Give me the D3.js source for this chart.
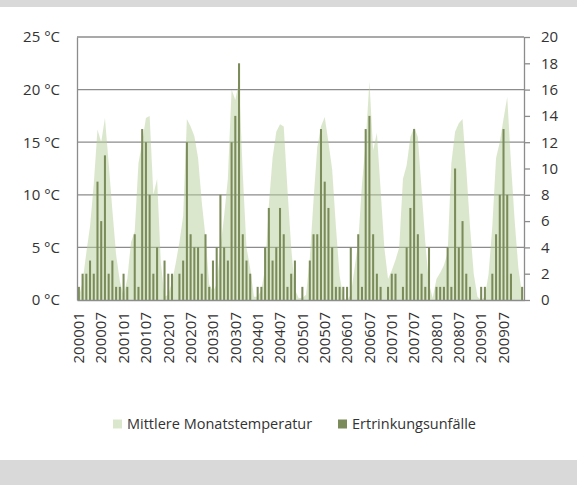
<!DOCTYPE html>
<html lang="de">
<head>
<meta charset="UTF-8">
<title>Temperatur und Ertrinkungsunfälle</title>
<script src="https://cdn.jsdelivr.net/npm/d3@7"></script>
<style>
  body { margin: 0; background: #fff; }
  .chart text { fill: #333; font-family: "Open Sans", sans-serif; }
</style>
</head>
<body>
<div class="chart"></div>
<script>
  const years = ['2000','2001','2002','2003','2004','2005','2006','2007','2008','2009'];
  const monthCodes = ['01','02','03','04','05','06','07','08','09','10','11','12'];
  const months = years.flatMap(y => monthCodes.map(m => y + m));
  const labelMonths = ['200001','200007','200101','200107','200201','200207','200301','200307','200401','200407',
    '200501','200507','200601','200607','200701','200707','200801','200807','200901','200907'];

  // mittlere Monatstemperatur in °C, je Zeile ein Jahr
  const temperature = [
    0.3, 1.7, 4.5, 7, 11, 16.2, 15, 17.3, 13, 8.5, 4.3, 1.8,
    0.4, 2, 5.5, 6.5, 13, 15, 17.3, 17.5, 10, 11.5, 3.6, 0.3,
    0.5, 1.7, 3.5, 5.5, 8, 17.2, 16.5, 15.6, 13.5, 9.3, 6, 1.5,
    0.8, 1.5, 5, 8, 11.5, 20, 19, 20.8, 12, 5, 3, 0.3,
    0.3, 1, 3, 9, 13.5, 16, 16.7, 16.5, 10.5, 5, 1, 0.2,
    0.2, 0.5, 4, 9.5, 14.5, 16.5, 17.4, 15, 12.4, 7, 2.3, 0.2,
    0, 0.5, 3, 5.5, 11, 15, 20.8, 14.2, 15.9, 10.5, 5, 2,
    2.8, 3.8, 5, 11.5, 12.8, 15.5, 16.4, 15.5, 10.5, 5.5, 1.5, 0.2,
    2, 2.6, 3.3, 4.5, 13, 16, 16.8, 17.2, 12.5, 7, 2.5, 0.3,
    0, 0.3, 2.5, 7, 13.5, 15, 17.2, 19.3, 13, 7.5, 3, 0.5
  ];
  // Ertrinkungsunfälle pro Monat
  const accidents = [
    1, 2, 2, 3, 2, 9, 6, 11, 2, 3, 1, 1,
    2, 1, 0, 5, 1, 13, 12, 8, 2, 4, 0, 3,
    2, 2, 0, 2, 3, 12, 5, 4, 4, 2, 5, 1,
    3, 4, 8, 4, 3, 12, 14, 18, 5, 3, 2, 0,
    1, 1, 4, 7, 3, 4, 7, 5, 1, 2, 3, 0,
    1, 0, 3, 5, 5, 13, 9, 7, 4, 1, 1, 1,
    1, 4, 0, 5, 1, 13, 14, 5, 2, 1, 0, 1,
    2, 2, 0, 1, 4, 7, 13, 5, 2, 1, 4, 0,
    1, 1, 1, 4, 1, 10, 4, 6, 2, 1, 0, 0,
    1, 1, 0, 2, 5, 8, 13, 8, 2, 0, 0, 1
  ];
  const tempTicks = [0, 5, 10, 15, 20, 25];
  const accTicks = [0, 2, 4, 6, 8, 10, 12, 14, 16, 18, 20];
  const legendItems = ['Mittlere Monatstemperatur', 'Ertrinkungsunfälle'];

  const data = months.map((m, i) => ({month: m, temp: temperature[i], acc: accidents[i]}));

  const bxSize = {w: 577, h: 485};
  const margin = {top: 37, right: 53, bottom: 185, left: 77};
  const [width, height] = [bxSize.w - margin.left - margin.right, bxSize.h - margin.top - margin.bottom];
  const colors = {area: '#b8d09a', bar: '#7b8c5a', grid: '#8c8c8c', band: '#d9d9d9'};

  const root = d3.select('.chart').append('svg')
    .attr('width', bxSize.w).attr('height', bxSize.h);
  root.append('rect').attr('width', bxSize.w).attr('height', 7).attr('fill', colors.band);
  root.append('rect').attr('y', 460).attr('width', bxSize.w).attr('height', 25).attr('fill', colors.band);

  const svg = root.append('g').attr('transform', `translate(${margin.left} ${margin.top})`);

  const xScale = d3.scaleBand().domain(months).range([0, width]).paddingInner(0.45).paddingOuter(0.225);
  const yTemp = d3.scaleLinear().domain([0, 25]).range([height, 0]);
  const yAcc = d3.scaleLinear().domain([0, 20]).range([height, 0]);
  const cx = d => xScale(d.month) + xScale.bandwidth() / 2;

  // Gitterlinien
  svg.append('g').selectAll('line').data(tempTicks.slice(1)).enter().append('line')
    .attr('x1', 0).attr('x2', width)
    .attr('y1', d => yTemp(d)).attr('y2', d => yTemp(d))
    .attr('stroke', colors.grid).attr('stroke-width', 1.3);

  const area = d3.area().x(cx).y0(yTemp(0)).y1(d => yTemp(d.temp));
  svg.append('path').attr('d', area(data))
    .attr('fill', colors.area).attr('fill-opacity', 0.5);

  svg.append('g').selectAll('rect').data(data).enter().append('rect')
    .attr('x', d => xScale(d.month)).attr('width', xScale.bandwidth())
    .attr('y', d => yAcc(d.acc)).attr('height', d => height - yAcc(d.acc))
    .attr('fill', colors.bar);

  const yAxis = d3.axisLeft(yTemp).tickValues(tempTicks).tickSize(0).tickPadding(17)
    .tickFormat(d => d + ' °C');
  const yAxis2 = d3.axisRight(yAcc).tickValues(accTicks).tickSize(6).tickSizeOuter(0).tickPadding(11);
  const xAxis = d3.axisBottom(xScale).tickValues(labelMonths).tickSize(0).tickSizeOuter(0);

  const styleAxis = g => {
    g.selectAll('.domain, line').attr('stroke', colors.grid).attr('stroke-width', 1.3);
    g.selectAll('text').attr('font-size', 15).attr('fill', '#333');
  };

  svg.append('g').call(yAxis).call(styleAxis);
  svg.append('g').attr('transform', `translate(${width} 0)`).call(yAxis2).call(styleAxis);
  svg.append('g').attr('transform', `translate(0 ${height})`).call(xAxis).call(styleAxis)
    .selectAll('text')
    .attr('transform', 'rotate(-90)')
    .attr('text-anchor', 'end')
    .attr('x', -12).attr('y', 0).attr('dy', '0.35em');

  // Legende
  const legend = root.append('g').attr('transform', 'translate(113 424)');
  const legendX = [0, 225];
  legendItems.forEach((name, i) => {
    const item = legend.append('g').attr('transform', `translate(${legendX[i]} 0)`);
    item.append('rect').attr('x', 0).attr('y', -4.5).attr('width', 9).attr('height', 9)
      .attr('fill', i === 0 ? colors.area : colors.bar)
      .attr('fill-opacity', i === 0 ? 0.5 : 1);
    item.append('text').attr('x', 14).attr('y', 0).attr('dy', '0.35em')
      .attr('font-size', 14.5).text(name);
  });
</script>
</body>
</html>
